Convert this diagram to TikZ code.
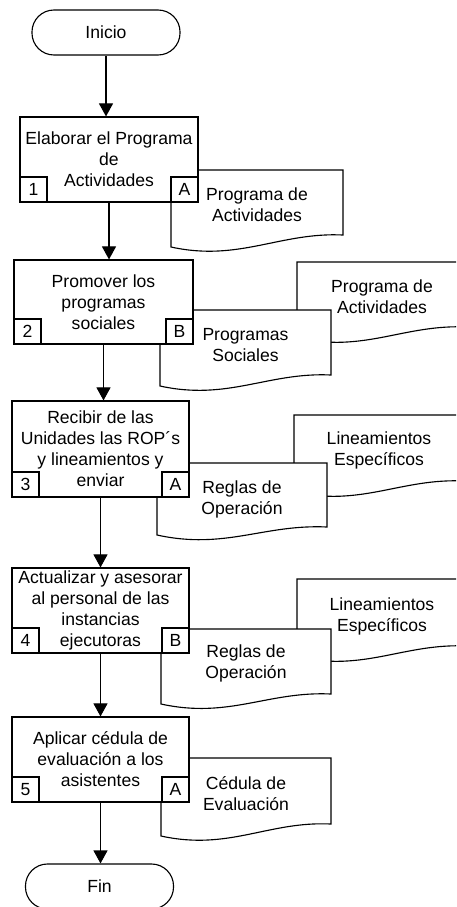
\documentclass[tikz,border=0pt]{standalone}
\usepackage{fontspec}
\setmainfont{Liberation Sans}
\usetikzlibrary{arrows.meta}
\usetikzlibrary{positioning}
\tikzset{
    every node/.style={
        font=\fontsize{12.5}{14.9}\selectfont
    },
    term/.style={
        draw, fill=white,
        line width=0.8pt,
        rounded corners=0.55cm,
        minimum width=3.7cm,
        minimum height=1.125cm,
        inner sep=0pt
    },
    proc box/.style={
        draw, fill=white,
        line width=0.8pt,
        align=center,
        inner sep=0pt
    },
    tag box/.style={
        draw, fill=white,
        line width=0.8pt,
        minimum width=0.675cm,
        minimum height=0.625cm,
        inner sep=0pt
    },
    doc line/.style={
        draw, fill=white,
        line width=0.8pt
    },
    doc text/.style={
        align=center
    },
    flow/.style={
        line width=0.8pt,
        -{Triangle[length=0.325cm, width=0.35cm]}
    }
}
% documento: x izq, arriba, x der, abajo der, abajo izq
\newcommand{\docshape}[5]{%
    \path[doc line] (#1,#2) -- (#3,#2) -- (#3,#4)
        .. controls +(-63,-3) and +(68,15) .. (#1,#5) -- cycle;}

\begin{document}
\begin{tikzpicture}[x=0.025cm, y=-0.025cm]
    \useasboundingbox (0,0) rectangle (456,907);
    \clip (0,0) rectangle (456,907);
    % documentos
    \docshape{171}{170}{343}{235}{247}
    \node[doc text] (d1) at (257,205) {Programa de\\Actividades};
    \docshape{297}{262}{467}{327}{338}
    \node[doc text] (d2b) at (382,297) {Programa de\\Actividades};
    \docshape{160}{310}{331}{375}{386}
    \node[doc text] (d2) at (245.5,345) {Programas\\Sociales};
    \docshape{294}{415}{464}{481}{492}
    \node[doc text] (d3b) at (379,450) {Lineamientos\\Espec\'ificos};
    \docshape{157}{463}{327}{527}{535}
    \node[doc text] (d3) at (242,499) {Reglas de\\Operaci\'on};
    \docshape{297}{579}{467}{646}{657}
    \node[doc text] (d4b) at (382,616) {Lineamientos\\Espec\'ificos};
    \docshape{161}{629}{331}{694}{704}
    \node[doc text] (d4) at (246,663) {Reglas de\\Operaci\'on};
    \docshape{161}{758}{331}{824}{836}
    \node[doc text] (d5) at (246,794) {C\'edula de\\Evaluaci\'on};
    % pasos
    \node[term] (ini) at (106,32.5) {Inicio};
    \node[proc box, minimum width=4.45cm, minimum height=2.125cm] (p1) at (109,159.5)
        {Elaborar el Programa\\de\\Actividades};
    \node[tag box, anchor=south west] (n1) at (p1.south west) {1};
    \node[tag box, anchor=south east] (l1) at (p1.south east) {A};
    \node[proc box, minimum width=4.475cm, minimum height=2.1cm] (p2) at (103.5,302)
        {Promover los\\programas\\sociales};
    \node[tag box, anchor=south west] (n2) at (p2.south west) {2};
    \node[tag box, anchor=south east] (l2) at (p2.south east) {B};
    \node[proc box, minimum width=4.425cm, minimum height=2.4cm] (p3) at (100.5,449)
        {Recibir de las\\Unidades las ROP´s\\y lineamientos y\\enviar};
    \node[tag box, anchor=south west] (n3) at (p3.south west) {3};
    \node[tag box, anchor=south east] (l3) at (p3.south east) {A};
    \node[proc box, minimum width=4.425cm, minimum height=2.125cm] (p4) at (100.5,610.5)
        {Actualizar y asesorar\\al personal de las\\instancias\\ejecutoras};
    \node[tag box, anchor=south west] (n4) at (p4.south west) {4};
    \node[tag box, anchor=south east] (l4) at (p4.south east) {B};
    \node[proc box, minimum width=4.425cm, minimum height=2.125cm] (p5) at (100.5,759.5)
        {Aplicar c\'edula de\\evaluaci\'on a los\\asistentes};
    \node[tag box, anchor=south west] (n5) at (p5.south west) {5};
    \node[tag box, anchor=south east] (l5) at (p5.south east) {A};
    \node[term] (fin) at (99.5,886.5) {Fin};
    \foreach \s/\t in {ini/p1,p1/p2,p2/p3,p3/p4,p4/p5,p5/fin}
      \draw[flow] (\s.south) -- (\s.south |- \t.north);
\end{tikzpicture}
\end{document}
